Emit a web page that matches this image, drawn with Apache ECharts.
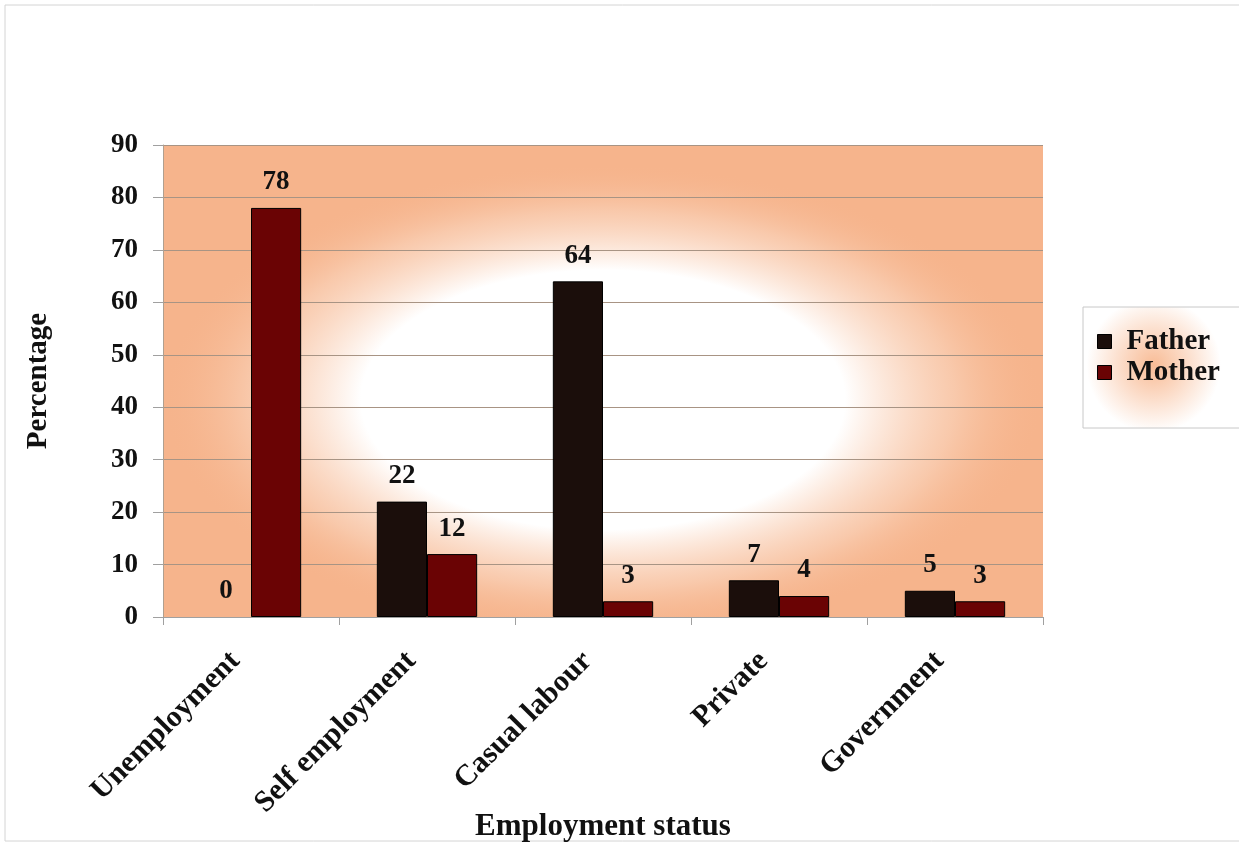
<!DOCTYPE html>
<html>
<head>
<meta charset="utf-8">
<script src="https://cdn.jsdelivr.net/npm/echarts@6/dist/echarts.min.js"></script>
<style>html,body{margin:0;padding:0;background:#fff;}#c{width:1239px;height:846px;}</style>
</head>
<body>
<div id="c"></div>
<script>
const categories = ['Unemployment', 'Self employment', 'Casual labour', 'Private', 'Government'];
const fatherValues = [0, 22, 64, 7, 5];
const motherValues = [78, 12, 3, 4, 3];
const seriesNames = ['Father', 'Mother'];
const yTicks = { min: 0, max: 90, interval: 10 };

const FONT = 'Liberation Serif, Times New Roman, serif';
const ORANGE = '#F6B48C';
const G = { left: 163, top: 145, right: 196, bottom: 229 };
const W = 1239 - G.left - G.right, H = 846 - G.top - G.bottom;

const chart = echarts.init(document.getElementById('c'));
const labelStyle = {
  show: true, position: 'top', distance: 12,
  fontFamily: FONT, fontWeight: 'bold', fontSize: 27, color: '#111'
};
const toItems = (vals) => vals.map(v => v === 0 ? { value: v, itemStyle: { borderWidth: 0 } } : v);
chart.setOption({
  backgroundColor: '#fff',
  animation: false,
  graphic: [
    { type: 'rect', silent: true, z: -20, shape: { x: 5, y: 5, width: 1300, height: 836 },
      style: { fill: '#fff', stroke: '#d4d4d4', lineWidth: 1 } },
    { type: 'rect', silent: true, z: -15, shape: { x: G.left, y: G.top, width: W, height: H },
      style: { fill: ORANGE } },
    { type: 'rect', silent: true, z: -14, x: G.left, y: G.top, scaleX: W / H,
      shape: { x: 0, y: 0, width: H, height: H },
      style: { fill: { type: 'radial', x: 0.5, y: 0.54, r: 0.5, colorStops: [
        { offset: 0, color: 'rgba(255,255,255,1)' },
        { offset: 0.55, color: 'rgba(255,255,255,1)' },
        { offset: 0.8, color: 'rgba(250,212,188,0.65)' },
        { offset: 1, color: 'rgba(246,180,140,0)' }
      ] } } }
  ],
  grid: { left: G.left, top: G.top, right: G.right, bottom: G.bottom, containLabel: false, outerBoundsMode: 'none' },
  legend: {
    orient: 'vertical', left: 1083, top: 307,
    data: seriesNames,
    icon: 'rect',
    itemWidth: 14, itemHeight: 14, itemGap: 2,
    padding: [20, 40, 41, 14],
    backgroundColor: { type: 'radial', x: 0.4, y: 0.48, r: 0.55, colorStops: [
      { offset: 0, color: '#F8BC96' }, { offset: 0.4, color: '#FBD6BF' }, { offset: 1, color: '#ffffff' } ] },
    borderColor: '#c8c8c8', borderWidth: 1,
    textStyle: { fontFamily: FONT, fontWeight: 'bold', fontSize: 29, color: '#111', padding: [0, 0, 0, 10], lineHeight: 28 },
    itemStyle: { borderColor: '#000', borderWidth: 1 }
  },
  xAxis: {
    type: 'category', data: categories,
    name: 'Employment status', nameLocation: 'middle', nameGap: 194, nameMoveOverlap: false,
    nameTextStyle: { fontFamily: FONT, fontWeight: 'bold', fontSize: 31, color: '#111' },
    axisLine: { show: true, lineStyle: { color: '#a0a0a0', width: 1 } },
    axisTick: { show: true, length: 8, lineStyle: { color: '#a0a0a0' } },
    axisLabel: { rotate: 45, margin: 24, padding: [0, 22, 0, 0], fontFamily: FONT, fontWeight: 'bold', fontSize: 30, color: '#111', interval: 0 }
  },
  yAxis: {
    type: 'value', min: yTicks.min, max: yTicks.max, interval: yTicks.interval,
    name: 'Percentage', nameLocation: 'middle', nameGap: 110, nameRotate: 90, nameMoveOverlap: false,
    nameTextStyle: { fontFamily: FONT, fontWeight: 'bold', fontSize: 29, color: '#111' },
    axisLine: { show: true, lineStyle: { color: '#b0a090', width: 1 } },
    axisTick: { show: true, length: 10, lineStyle: { color: '#a0a0a0' } },
    axisLabel: { margin: 25, fontFamily: FONT, fontWeight: 'bold', fontSize: 27, color: '#111' },
    splitLine: { show: true, lineStyle: { color: '#a89484', width: 1 } }
  },
  series: [
    { name: seriesNames[0], type: 'bar', data: toItems(fatherValues), barGap: '0%', barCategoryGap: '43%',
      itemStyle: { color: '#1B0E0B', borderColor: '#000', borderWidth: 1 }, label: labelStyle },
    { name: seriesNames[1], type: 'bar', data: toItems(motherValues),
      itemStyle: { color: '#6A0304', borderColor: '#000', borderWidth: 1 }, label: labelStyle }
  ]
});
</script>
</body>
</html>
